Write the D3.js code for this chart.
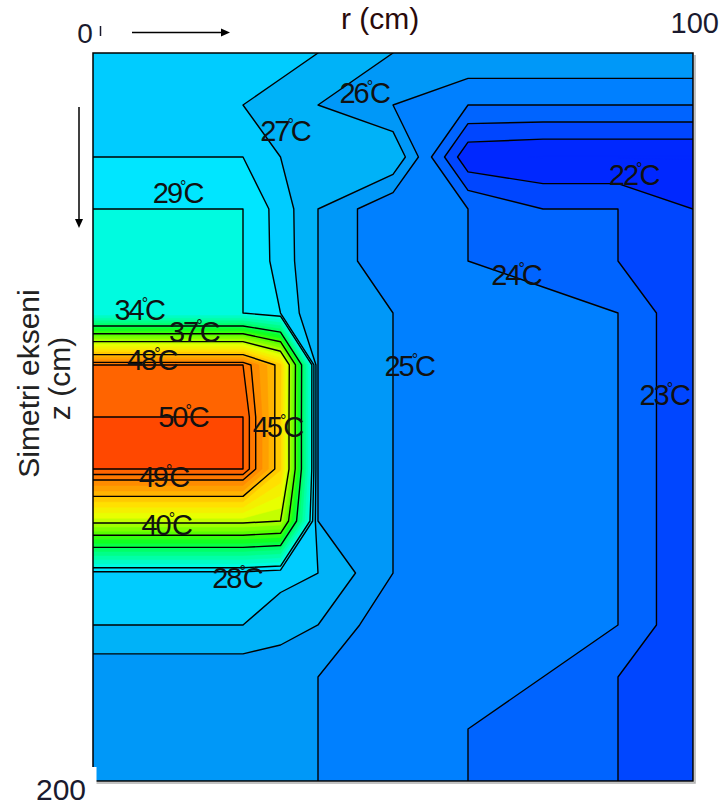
<!DOCTYPE html>
<html>
<head>
<meta charset="utf-8">
<script src="https://cdn.jsdelivr.net/npm/d3@7"></script>
<style>
  body { margin: 0; background: #fff; }
  svg { display: block; }
  text { font-family: "Liberation Sans", Arial, sans-serif; }
</style>
</head>
<body>
<svg id="chart" width="722" height="810"></svg>
<script>
// Mesh node positions: radius r (cm) across, depth z (cm) down the symmetry axis
const rNodes = [0, 12.5, 25, 31.25, 37.5, 50, 62.5, 75, 87.5, 100];
const zNodes = [0, 14.29, 28.57, 42.86, 57.14, 71.43, 85.71, 100, 114.29, 128.57, 142.86, 157.14, 171.43, 185.71, 200];

// Temperature (°C) at each node, one row per depth
const tempRows = [
  [27.5, 27.5, 27.5, 27.2, 27.0, 26.0, 25.95, 25.95, 25.95, 25.95],
  [27.6, 27.6, 27.0, 26.8, 26.0, 25.0, 24.0, 24.0, 24.0, 24.0],
  [28.0, 28.0, 28.0, 27.0, 26.5, 26.95, 21.2, 20.95, 20.95, 20.95],
  [29.0, 29.0, 29.0, 27.55, 26.0, 24.1, 24.0, 23.0, 23.0, 22.0],
  [29.6, 29.6, 29.0, 27.6, 26.0, 24.1, 24.0, 23.8, 23.0, 22.05],
  [29.0, 29.0, 29.0, 28.0, 26.0, 25.0, 24.5, 24.2, 24.0, 22.05],
  [49.0, 49.0, 49.0, 44.3, 26.0, 25.0, 24.5, 24.4, 24.0, 22.05],
  [50.0, 50.0, 50.0, 44.1, 26.0, 25.0, 24.5, 24.4, 24.0, 22.05],
  [50.0, 50.0, 50.0, 44.1, 26.0, 25.0, 24.5, 24.4, 24.0, 22.05],
  [40.5, 40.5, 40.5, 40.0, 26.0, 25.0, 24.5, 24.4, 24.0, 22.05],
  [27.7, 27.7, 27.7, 27.3, 27.0, 25.0, 24.5, 24.4, 24.0, 22.05],
  [27.0, 27.0, 27.0, 26.5, 26.0, 24.2, 24.5, 24.4, 24.0, 22.05],
  [25.2, 25.2, 25.2, 25.2, 25.0, 24.5, 24.3, 24.0, 23.0, 22.4],
  [25.3, 25.3, 25.3, 25.3, 25.0, 24.6, 24.0, 23.5, 23.0, 22.4],
  [25.3, 25.3, 25.3, 25.3, 25.0, 24.6, 24.0, 23.5, 23.0, 22.4]
];

// Filled bands every degree; drawn isotherms at the labelled levels
const fillLevels = [20, 21, 22, 23, 24, 25, 26, 27, 28, 29, 30, 31, 32, 33, 34, 35, 36, 37, 38, 39, 40, 41, 42, 43, 44, 45, 46, 47, 48, 49, 50, 51];
const lineLevels = [22, 23, 24, 25, 26, 27, 28, 29, 34, 37, 40, 45, 48, 49, 50];

// Isotherm labels: level and where each one is written (r, z in cm)
const labelLevels = [22, 23, 24, 25, 26, 27, 28, 29, 34, 37, 40, 45, 48, 49, 50];
const labelSpots = [
  [90.1, 36.3], [95.2, 96.7], [70.5, 63.7], [52.7, 88.7], [45.2, 13.7],
  [32.0, 24.2], [24.0, 147.0], [14.1, 41.2], [7.7, 73.4], [16.8, 79.4],
  [12.2, 132.4], [30.75, 105.5], [9.8, 87.1], [11.75, 119.2], [15.0, 102.7]
];

const svg = d3.select("#chart");
const plot = { left: 93, top: 53, right: 693, bottom: 781 };

const x = d3.scaleLinear().domain([0, 100]).range([plot.left, plot.right]);
const y = d3.scaleLinear().domain([0, 200]).range([plot.top, plot.bottom]);

// grid index -> physical coordinate (non-uniform mesh)
const idxR = d3.scaleLinear().domain(d3.range(rNodes.length)).range(rNodes);
const idxZ = d3.scaleLinear().domain(d3.range(zNodes.length)).range(zNodes);

const nx = rNodes.length, ny = zNodes.length;
const values = tempRows.flat();

const project = d3.geoTransform({
  point(px, py) { this.stream.point(x(idxR(px - 0.5)), y(idxZ(py - 0.5))); }
});
const path = d3.geoPath(project);

const colour = d3.scaleLinear()
  .domain([21.5, 22.5, 23.5, 24.5, 25.5, 26.5, 27.5, 28.5, 29.5, 31.5, 33.5, 35.5, 37.5, 39.5, 41.5, 43.5, 45.5, 47.5, 48.5, 49.5, 50.5])
  .range(["#0028ff", "#0046ff", "#0064ff", "#0080ff", "#0098f8", "#00b2f8", "#00ccff", "#00e6ff",
          "#00fbe0", "#00ffa8", "#00ff68", "#10ff20", "#58ff00", "#a0ff00", "#e8ff00", "#ffe000",
          "#ffb400", "#ff8c00", "#ff7800", "#ff6400", "#ff4800"])
  .clamp(true);

const defs = svg.append("defs");
defs.append("clipPath").attr("id", "plotClip")
  .append("rect")
  .attr("x", plot.left).attr("y", plot.top)
  .attr("width", plot.right - plot.left).attr("height", plot.bottom - plot.top);

const field = svg.append("g").attr("clip-path", "url(#plotClip)");

// filled temperature bands
const bands = d3.contours().size([nx, ny]).thresholds(fillLevels)(values);
field.append("g").selectAll("path")
  .data(bands)
  .join("path")
  .attr("d", path)
  .attr("fill", d => colour(d.value + 0.5))
  .attr("stroke", d => colour(d.value + 0.5))
  .attr("stroke-width", 0.5);

// isotherm lines
const isolines = d3.contours().size([nx, ny]).thresholds(lineLevels)(values);
field.append("g").selectAll("path")
  .data(isolines)
  .join("path")
  .attr("d", path)
  .attr("fill", "none")
  .attr("stroke", "#000")
  .attr("stroke-width", 1.4)
  .attr("stroke-linejoin", "round");

// isotherm labels
const labels = svg.append("g").attr("fill", "#111");
labelLevels.forEach((lv, i) => {
  const t = labels.append("text")
    .attr("x", x(labelSpots[i][0]))
    .attr("y", y(labelSpots[i][1]))
    .attr("text-anchor", "middle")
    .attr("font-size", 29)
    .attr("letter-spacing", "-2px");
  t.append("tspan").text(lv);
  t.append("tspan").attr("font-size", 16).attr("dy", -11).attr("dx", -1).text("°");
  t.append("tspan").attr("dy", 11).attr("dx", -1).text("C");
});

// frame with a faint drop shadow
svg.append("path")
  .attr("d", `M${plot.right + 2},${plot.top + 2}V${plot.bottom + 2}H${plot.left + 2}`)
  .attr("fill", "none").attr("stroke", "#b0b0b0").attr("stroke-width", 1.5);
svg.append("rect")
  .attr("x", plot.left).attr("y", plot.top)
  .attr("width", plot.right - plot.left).attr("height", plot.bottom - plot.top)
  .attr("fill", "none").attr("stroke", "#000").attr("stroke-width", 1.5);

// axis annotations
const ink = "#1a1a2e";
svg.append("text").attr("x", 85).attr("y", 43).attr("text-anchor", "middle")
  .attr("font-size", 28).attr("fill", ink).text("0");
svg.append("line").attr("x1", 100.5).attr("x2", 100.5).attr("y1", 26).attr("y2", 36)
  .attr("stroke", ink).attr("stroke-width", 1.5);
svg.append("text").attr("x", 341).attr("y", 29)
  .attr("font-size", 30).attr("fill", "#2a0a0a").text("r (cm)");
svg.append("text").attr("x", 719).attr("y", 33).attr("text-anchor", "end")
  .attr("font-size", 29).attr("fill", ink).text("100");

// "200" sits in its own white box over the frame corner
svg.append("rect").attr("x", 20).attr("y", 767).attr("width", 76.5).attr("height", 43).attr("fill", "#fff");
svg.append("text").attr("x", 36).attr("y", 800)
  .attr("font-size", 30).attr("fill", ink).text("200");

// axis title, rotated
svg.append("text")
  .attr("transform", "translate(39,383.5) rotate(-90)")
  .attr("text-anchor", "middle").attr("font-size", 30).attr("fill", "#222")
  .text("Simetri ekseni");
svg.append("text")
  .attr("transform", "translate(70,378.5) rotate(-90)")
  .attr("text-anchor", "middle").attr("font-size", 30).attr("fill", "#222")
  .text("z (cm)");

// direction arrows
const arrow = svg.append("g").attr("stroke", "#000").attr("fill", "#000");
arrow.append("line").attr("x1", 132).attr("y1", 32.5).attr("x2", 224).attr("y2", 32.5).attr("stroke-width", 1.5);
arrow.append("path").attr("d", "M230,32.5L221,28.5L221,36.5Z").attr("stroke", "none");
arrow.append("line").attr("x1", 79).attr("y1", 107).attr("x2", 79).attr("y2", 221).attr("stroke-width", 1.5);
arrow.append("path").attr("d", "M79,228L75,219L83,219Z").attr("stroke", "none");
</script>
</body>
</html>
